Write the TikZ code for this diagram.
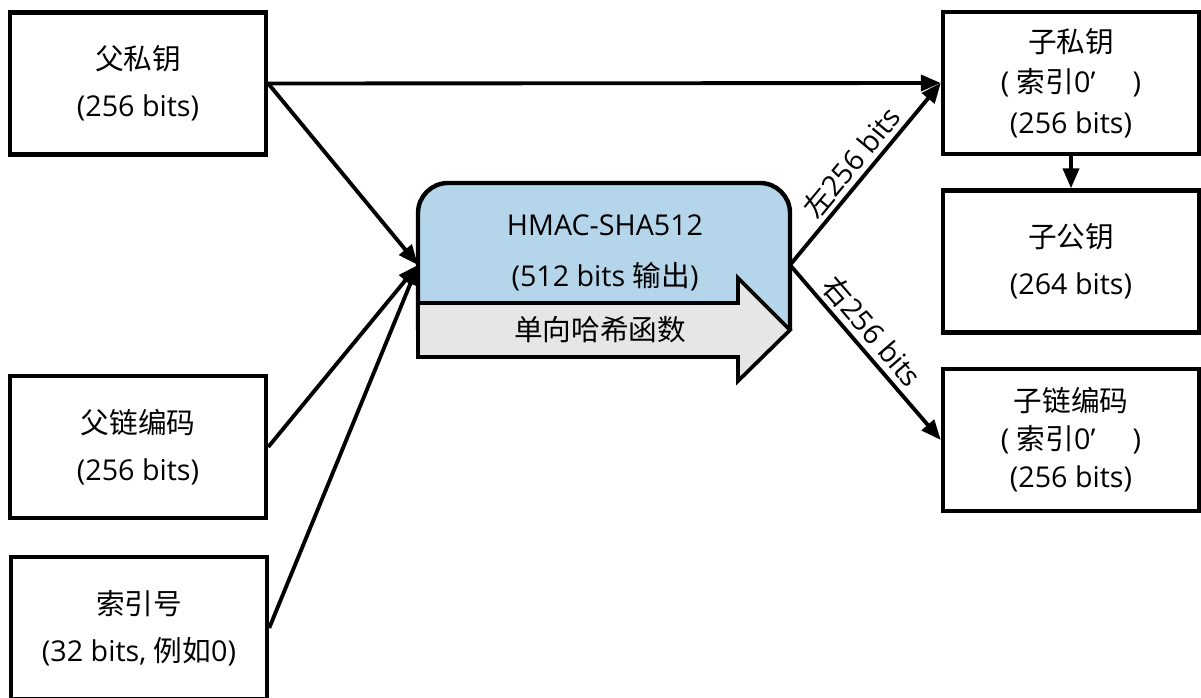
\documentclass[tikz,border=0pt]{standalone}
\usepackage{fontspec}
\setmainfont{Open Sans}
\newfontfamily\cjk{Noto Sans CJK SC}
\usetikzlibrary{arrows.meta}
\newcommand\zh[1]{{\cjk #1}}
\definecolor{hblue}{RGB}{180,213,234}
\definecolor{hgrey}{RGB}{230,230,230}
\begin{document}
\begin{tikzpicture}[x=0.75pt,y=-0.75pt,
 box/.style={draw, line width=3.3pt, minimum width=192pt, minimum height=106.5pt, align=center, inner sep=0pt, font=\fontsize{21.5}{35}\selectfont},
 box3/.style={box, font=\fontsize{21.5}{30.5}\selectfont},
 conn/.style={line width=2.9pt, -{Triangle[length=15pt,width=12pt]}},
 lbl/.style={font=\fontsize{21.5}{24}\selectfont, sloped, above, inner sep=3pt},
 htext/.style={font=\fontsize{21.5}{24}\selectfont, inner sep=0pt}]
\useasboundingbox (0,0) rectangle (1201,697);
% left boxes
\node[box] (ppk) at (138,83.5) {\zh{父私钥}\\(256 bits)};
\node[box] (pcc) at (138,447) {\zh{父链编码}\\(256 bits)};
\node[box] (idx) at (139,628) {\zh{索引号}\\(32 bits, \zh{例如}0)};
% right boxes
\node[box3] (cpk) at (1071,83) {\zh{子私钥}\\(\ \zh{索引}0’\hspace{1.3em})\\(256 bits)};
\node[box] (cpub) at (1071,261.5) {\zh{子公钥}\\(264 bits)};
\node[box3, font=\fontsize{21.5}{28.5}\selectfont] (ccc) at (1071,440) {\zh{子链编码}\\(\ \zh{索引}0’\hspace{1.3em})\\(256 bits)};
% HMAC block
\fill[hblue] (418,330) -- (418,213) arc[start angle=180,end angle=270,radius=30] -- (760,183) arc[start angle=270,end angle=360,radius=30] -- (790,330) -- cycle;
\draw[line width=3.3pt] (418,330) -- (418,213) arc[start angle=180,end angle=270,radius=30] -- (760,183) arc[start angle=270,end angle=360,radius=30] -- (790,330);
\draw[fill=hgrey, line width=2.8pt, line join=miter] (418,303) -- (738,303) -- (738,278) -- (790,330) -- (738,381) -- (738,357) -- (418,357) -- cycle;
\node[htext] (h1) at (605,225) {HMAC-SHA512};
\node[htext] (h2) at (605,277) {(512 bits \zh{输出})};
\node[htext] (h3) at (600,330) {\zh{单向哈希函数}};
\coordinate (hin) at (418,265);
\coordinate (hout) at (790,265);
% connectors
\draw[conn] (ppk.east) -- (cpk.west);
\draw[conn] (ppk.east) -- (hin);
\draw[conn] (pcc.east) -- (hin);
\draw[conn] (idx.east) -- (hin);
\draw[conn] (hout) -- node[lbl]{\zh{左}256 bits} (cpk.west);
\draw[conn] (hout) -- node[lbl, pos=0.45]{\zh{右}256 bits} (ccc.west);
\draw[conn] (cpk.south) -- (cpub.north);
\end{tikzpicture}
\end{document}
